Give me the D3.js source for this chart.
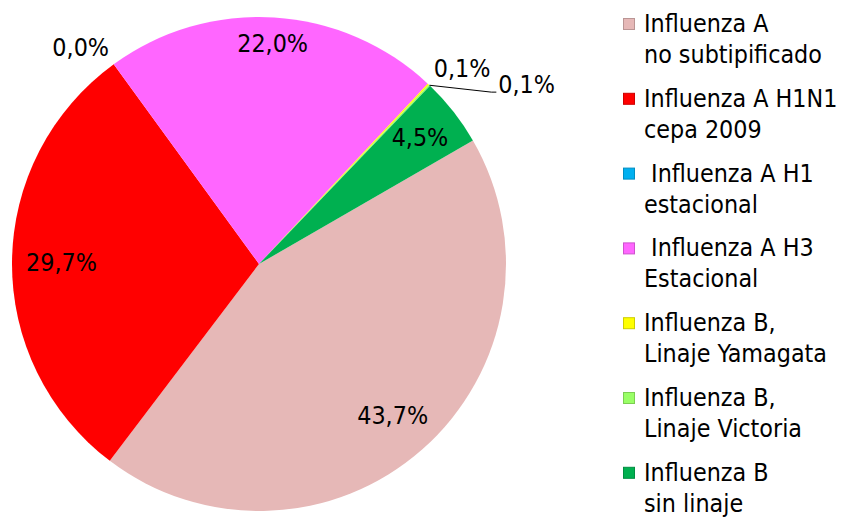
<!DOCTYPE html>
<html>
<head>
<meta charset="utf-8">
<script src="https://cdn.jsdelivr.net/npm/d3@7"></script>
<style>
  body { margin: 0; background: #fff; }
  text { font-family: "DejaVu Sans Condensed", "DejaVu Sans", sans-serif; font-stretch: condensed; fill: #000; }
</style>
</head>
<body>
<div id="chart"></div>
<script>
// series as they appear in the legend (clockwise order in the pie)
const categories = [
  ['Influenza A', 'no subtipificado'],
  ['Influenza A H1N1', 'cepa 2009'],
  [' Influenza A H1', 'estacional'],
  [' Influenza A H3', 'Estacional'],
  ['Influenza B,', 'Linaje Yamagata'],
  ['Influenza B,', 'Linaje Victoria'],
  ['Influenza B', 'sin linaje']
];
const values = [43.7, 29.7, 0.0, 22.0, 0.1, 0.1, 4.5];
const valueLabels = ['43,7%', '29,7%', '0,0%', '22,0%', '0,1%', '0,1%', '4,5%'];
const colors = ['#E6B8B7', '#FF0000', '#00B0F0', '#FF66FF', '#FFFF00', '#99FF66', '#00B050'];

const width = 846, height = 518;
const cx = 259, cy = 264, radius = 247;
const fontSize = 24.8;

const svg = d3.select('#chart').append('svg')
  .attr('width', width)
  .attr('height', height);

const pie = d3.pie()
  .value(d => d)
  .sort(null)
  .startAngle(60 * Math.PI / 180)
  .endAngle(420 * Math.PI / 180);

const arcs = pie(values);
const arc = d3.arc().innerRadius(0).outerRadius(radius);

const g = svg.append('g').attr('transform', `translate(${cx},${cy})`);

g.selectAll('path')
  .data(arcs)
  .enter()
    .append('path')
      .attr('d', arc)
      .attr('fill', (d, i) => colors[i]);

// labels: big slices inside (box kept a fixed gap from the rim), tiny ones outside
const insideEdge = 233;
const placed = [];
function overlaps(b) {
  return placed.some(p => !(b.x1 + 6 < p.x0 || b.x0 > p.x1 + 6 || b.y1 + 2 < p.y0 || b.y0 > p.y1 + 2));
}

arcs.forEach((d, i) => {
  const mid = (d.startAngle + d.endAngle) / 2;
  const label = g.append('text')
    .attr('font-size', fontSize)
    .text(valueLabels[i]);
  const bb = label.node().getBBox();
  const w = bb.width, h = 20;
  if (values[i] >= 1) {
    const ext = Math.abs(Math.sin(mid)) * w / 2 + Math.abs(Math.cos(mid)) * h / 2;
    const r = insideEdge - ext;
    label.attr('x', r * Math.sin(mid))
      .attr('y', -r * Math.cos(mid))
      .attr('text-anchor', 'middle')
      .attr('dominant-baseline', 'central');
    return;
  }
  let a = mid, r = radius + 8, box, k = 0;
  while (true) {
    const ax = r * Math.sin(a), ay = -r * Math.cos(a);
    const left = Math.sin(a) >= 0 ? ax : ax - w;
    const top = Math.cos(a) >= 0 ? ay - h : ay;
    box = {x0: left, x1: left + w, y0: top, y1: top + h};
    if (!overlaps(box) || k > 40) break;
    a += Math.PI / 180;
    r += 3.5;
    k++;
  }
  placed.push(box);
  label.attr('x', box.x0)
    .attr('y', (box.y0 + box.y1) / 2)
    .attr('dominant-baseline', 'central');
  if (k > 0) {
    const rim = [radius * Math.sin(mid), -radius * Math.cos(mid)];
    g.append('polyline')
      .attr('points', [rim, [box.x0 - 7, box.y1 - 2], [box.x0 - 2, box.y1 - 2]].map(p => p.join(',')).join(' '))
      .attr('fill', 'none')
      .attr('stroke', '#000')
      .attr('stroke-width', 1);
  }
});

// legend
const legend = svg.append('g').attr('transform', 'translate(623, 32)');
const entryGap = 74.8, lineGap = 31;

const items = legend.selectAll('g')
  .data(categories)
  .enter()
    .append('g')
      .attr('transform', (d, i) => `translate(0, ${i * entryGap})`);

items.append('rect')
  .attr('x', 0.5)
  .attr('y', -13.5)
  .attr('width', 11)
  .attr('height', 11)
  .attr('fill', (d, i) => colors[i])
  .attr('stroke', (d, i) => d3.color(colors[i]).darker(0.6))
  .attr('stroke-width', 1);

items.append('text')
  .attr('x', 21)
  .attr('y', 0)
  .attr('font-size', fontSize)
  .style('white-space', 'pre')
  .text(d => d[0]);

items.append('text')
  .attr('x', 21)
  .attr('y', lineGap)
  .attr('font-size', fontSize)
  .text(d => d[1]);
</script>
</body>
</html>
